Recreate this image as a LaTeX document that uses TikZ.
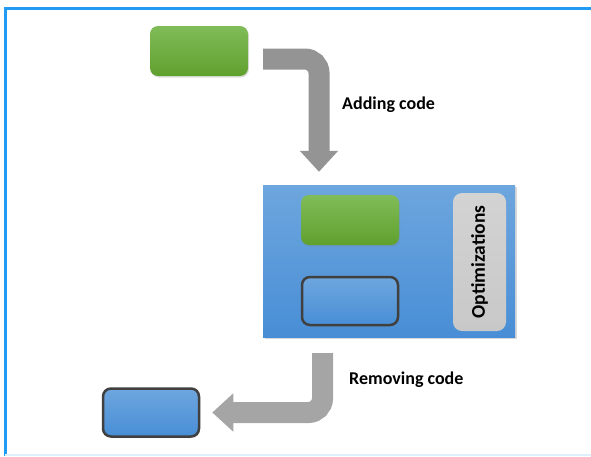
\documentclass[tikz,border=0pt]{standalone}
\usepackage{fontspec}
\setmainfont{Carlito}
\usetikzlibrary{arrows.meta,shadows}
\definecolor{framebl}{RGB}{33,155,243}
\definecolor{grtop}{RGB}{128,188,88}
\definecolor{grbot}{RGB}{96,160,46}
\definecolor{bltop}{RGB}{110,166,222}
\definecolor{blbot}{RGB}{72,142,214}
\definecolor{optgray}{RGB}{200,200,200}
\definecolor{arrowgr}{RGB}{165,165,165}
\begin{document}
\begin{tikzpicture}[x=1pt,y=-1pt,
        greenbox/.style={rounded corners=8pt,inner sep=0pt,minimum width=98pt,minimum height=50pt,
            top color=grtop,bottom color=grbot,drop shadow={opacity=0.25,shadow xshift=1pt,shadow yshift=-1.5pt}},
        bluebox/.style={rounded corners=8pt,inner sep=0pt,minimum width=96pt,minimum height=48pt,
            draw=black!75,line width=2.5pt,top color=bltop,bottom color=blbot,
            drop shadow={opacity=0.25,shadow xshift=1pt,shadow yshift=-1.5pt}},
        panel/.style={inner sep=0pt,minimum width=252pt,minimum height=152pt,
            top color=bltop,bottom color=blbot,drop shadow={opacity=0.3,shadow xshift=1.5pt,shadow yshift=-2pt}},
        optbox/.style={rounded corners=9pt,inner sep=0pt,rotate=90,minimum width=138pt,minimum height=53pt,
            top color=optgray!80,bottom color=optgray,font=\fontsize{19.5}{21}\selectfont\bfseries},
        bigarrow/.style={draw=arrowgr,line width=21pt,rounded corners=14pt,-{Triangle[width=37pt,length=21pt]}},
        lbl/.style={inner sep=0pt,anchor=west,font=\fontsize{18}{20}\selectfont\bfseries}]
    \useasboundingbox (0,0) rectangle (591,456);
    % frame
    \draw[framebl,line width=3pt] (5.5,456) -- (5.5,8.5) -- (591,8.5);
    \draw[framebl!15,line width=1.5pt] (5,455.2) -- (591,455.2);
    % boxes
    \node[greenbox] (src) at (199,51) {};
    \node[panel] (main) at (389,261) {};
    \node[greenbox] (add) at (350,220) {};
    \node[bluebox] (keep) at (350,301) {};
    \node[optbox] (opt) at (479.5,262) {Optimizations};
    \node[bluebox] (dst) at (151,412.5) {};
    % arrows
    \draw[bigarrow,draw=arrowgr!90!black,shorten >=13pt] ([xshift=15pt,yshift=-8pt]src.east) -| ([xshift=-70pt]main.north);
    \draw[bigarrow,shorten <=16pt,shorten >=12pt] ([xshift=-66.5pt]main.south) |- (dst.east);
    \node[lbl] (addlbl) at (342,105) {Adding code};
    \node[lbl] (remlbl) at (349,380) {Removing code};
\end{tikzpicture}
\end{document}
